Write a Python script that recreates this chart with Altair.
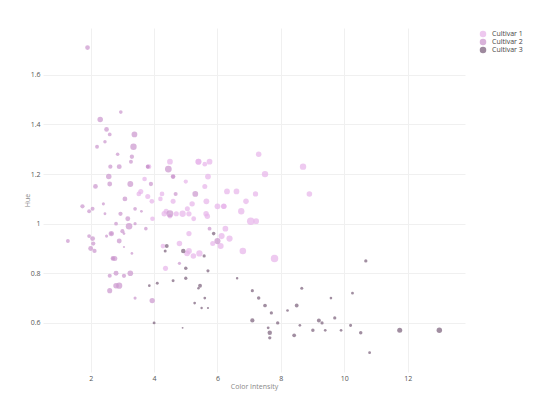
import altair as alt
import pandas as pd

cultivars = ["Cultivar 1", "Cultivar 2", "Cultivar 3"]

c1_color = [5.64, 4.38, 5.68, 7.8, 4.32, 6.75, 5.25, 5.05, 5.2, 7.22, 5.75, 5, 5.6, 5.4, 7.5, 7.3, 6.2, 6.6, 8.7, 5.1,
            5.65, 4.5, 3.8, 3.93, 3.52, 3.58, 4.8, 3.95, 4.5, 4.7, 5.7, 6.9, 3.84, 5.4, 4.2, 5.1, 4.6, 4.25, 3.7, 5.1,
            6.13, 4.28, 5.43, 4.36, 5.04, 5.24, 4.9, 6.1, 6.2, 8.9, 7.2, 5.6, 7.05, 6.3, 5.85, 6.25, 6.38, 6.0, 6.8]
c1_hue = [1.04, 1.05, 1.03, .86, 1.04, 1.05, 1.02, 1.06, 1.08, 1.01, 1.25, 1.17, 1.15, 1.25, 1.2, 1.28, 1.07, 1.13, 1.23, .96,
          1.09, 1.03, 1.11, 1.09, 1.12, 1.13, .92, 1.02, 1.25, 1.04, 1.19, 1.09, 1.23, 1.25, 1.1, 1.04, 1.09, 1.12, 1.18, .89,
          .95, .91, .88, .82, .88, .87, 1.04, .91, 1.07, 1.12, 1.12, 1.24, 1.01, 1.13, .92, .98, .94, 1.07, .89]
c1_phenols = [2.8, 2.65, 2.8, 3.85, 2.8, 3.27, 2.5, 2.6, 2.8, 2.98, 2.95, 2.2, 2.6, 3.1, 3.3, 2.85, 2.8, 2.95, 3.3, 2.7,
              3, 2.41, 2.61, 2.48, 2.53, 2.63, 2.85, 2.4, 2.95, 2.65, 3, 2.86, 2.42, 2.95, 2.35, 2.7, 2.6, 2.45, 2.4, 3,
              3.15, 2.45, 3.25, 2.64, 3, 2.85, 3.25, 3.1, 2.75, 2.88, 2.72, 2.45, 3.88, 3, 2.6, 2.96, 3.2, 3, 3.4]

c2_color = [1.95, 3.27, 5.75, 3.8, 4.45, 2.95, 4.6, 5.3, 4.68, 3.17, 2.85, 3.05, 3.38, 3.74, 3.35, 3.21, 3.8, 4.6, 2.65, 3.4,
            2.57, 2.5, 3.9, 2.2, 4.8, 3.05, 2.62, 2.45, 2.6, 2.8, 1.74, 2.4, 3.6, 3.05, 2.15, 3.25, 2.6, 2.5, 2.9, 4.5,
            2.3, 3.3, 2.45, 2.8, 2.06, 2.94, 2.7, 3.4, 3.3, 2.7, 2.65, 2.9, 2, 3.8, 3.08, 2.9, 1.9, 1.95, 2.06, 3.4,
            1.28, 3.25, 6, 2.08, 2.6, 2.8, 2.76, 3.94, 3, 2.12, 2.6]
c2_hue = [1.05, 1.25, .98, 1.23, 1.22, 1.45, 1.19, 1.12, 1.12, 1.02, 1.28, .906, 1.36, .98, 1.31, .99, 1.23, 1.19, .96, 1.06,
          1.19, 1.38, 1.16, 1.31, .84, .79, 1.23, 1.33, 1.36, 1, 1.07, 1.08, 1.05, .96, 1.15, 1.16, 1.16, .95, 1.23, 1.04,
          1.42, 1.27, 1.04, .8, .94, 1.04, .86, 1, .88, .86, .96, .75, .9, 1.23, 1.1, .93, 1.71, .95, 1.06, .7,
          .93, .8, .93, .92, .73, .75, .86, .69, .97, .89, .79]
c2_phenols = [1.98, 2.05, 2.02, 2.1, 3.5, 1.89, 2.42, 2.98, 2.11, 2.53, 1.85, 1.1, 2.95, 1.88, 3.3, 3.38, 1.61, 1.95, 1.72, 1.9,
              2.83, 2.42, 2.2, 2, 1.65, 2.2, 2.2, 1.78, 1.92, 1.95, 2.2, 1.6, 1.45, 1.38, 2.45, 3.02, 2.5, 1.6, 2.55, 3.52,
              2.85, 2.23, 1.45, 2.56, 2.5, 2.2, 1.68, 1.65, 1.38, 2.36, 2.74, 3.18, 2.55, 1.75, 2.48, 2.56, 2.46, 1.98, 2, 1.63,
              2, 2.9, 3.18, 2.2, 2.62, 2.86, 2.6, 2.74, 2.13, 2.22, 2.1]

c3_color = [4.1, 5.4, 5.7, 5, 5.45, 7.1, 3.85, 5, 5.7, 4.92, 4.6, 5.6, 4.35, 4.4, 8.21, 4, 4.9, 7.65, 8.42, 9.4,
            8.6, 10.8, 7.1, 10.52, 7.6, 7.9, 9.01, 7.5, 13, 11.75, 7.65, 5.88, 5.58, 5.28, 9.58, 6.62, 10.68, 10.26, 8.66, 8.5,
            5.5, 9.9, 9.7, 7.7, 7.3, 10.2, 9.3, 9.2]
c3_hue = [.76, .74, .66, .78, .75, .73, .75, .82, .81, .89, .77, .7, .89, .91, .65, .6, .58, .54, .55, .57,
          .59, .48, .61, .56, .58, .6, .57, .67, .57, .57, .56, .96, .87, .68, .7, .78, .85, .72, .74, .67,
          .66, .57, .62, .64, .7, .59, .6, .61]
c3_phenols = [1.51, 1.3, 1.15, 1.7, 2, 1.62, 1.38, 1.79, 1.62, 2.32, 1.54, 1.4, 1.55, 2, 1.38, 1.5, .98, 1.7, 1.93, 1.41,
              1.4, 1.48, 2.2, 1.8, 1.48, 1.74, 1.8, 1.9, 2.8, 2.6, 2.3, 1.83, 1.65, 1.39, 1.35, 1.28, 1.7, 1.48, 1.55, 1.98,
              1.25, 1.39, 1.68, 1.68, 1.8, 1.59, 1.65, 2.05]

x_ticks = [2, 4, 6, 8, 10, 12]
y_ticks = [0.6, 0.8, 1, 1.2, 1.4, 1.6]

rows = []
for name, cs, hs, ps in zip(cultivars,
                            [c1_color, c2_color, c3_color],
                            [c1_hue, c2_hue, c3_hue],
                            [c1_phenols, c2_phenols, c3_phenols]):
    for c, h, p in zip(cs, hs, ps):
        rows.append({"Cultivar": name, "Color Intensity": c, "Hue": h, "Phenols": p})
df = pd.DataFrame(rows)

FONT = "Open Sans"

chart = alt.Chart(df).mark_circle(opacity=0.72).encode(
    x=alt.X("Color Intensity:Q",
            scale=alt.Scale(domain=[0.495, 13.81], nice=False, zero=False),
            axis=alt.Axis(values=x_ticks, title="Color Intensity", labelPadding=2, titlePadding=1)),
    y=alt.Y("Hue:Q",
            scale=alt.Scale(domain=[0.402, 1.789], nice=False, zero=False),
            axis=alt.Axis(values=y_ticks, format=".1~f", title="Hue", labelPadding=3, titlePadding=0)),
    color=alt.Color("Cultivar:N",
                    scale=alt.Scale(domain=cultivars, range=["#e8b6ea", "#cc98ce", "#7d627d"]),
                    legend=alt.Legend(title=None, orient="none", legendX=436, legendY=2,
                                      symbolSize=42, symbolOpacity=0.75, symbolType="circle",
                                      labelFont=FONT, labelFontSize=7, labelColor="#444444",
                                      rowPadding=0, labelOffset=5)),
    size=alt.Size("Phenols:Q",
                  scale=alt.Scale(type="pow", exponent=2, domain=[0, 4], range=[0, 60]),
                  legend=None),
).properties(
    width=422, height=344,
    padding={"left": 35, "top": 20, "right": 60, "bottom": 25},
    autosize=alt.AutoSizeParams(type="none"),
).configure_view(stroke=None).configure_axis(
    grid=True, gridColor="#f0f0f0", gridWidth=1, domain=False, ticks=False,
    labelFont=FONT, labelFontSize=7, labelColor="#555555",
    titleFont=FONT, titleFontSize=7, titleColor="#888888", titleFontWeight="normal",
)

chart.save("out.html", embed_options={"renderer": "svg", "actions": False})
